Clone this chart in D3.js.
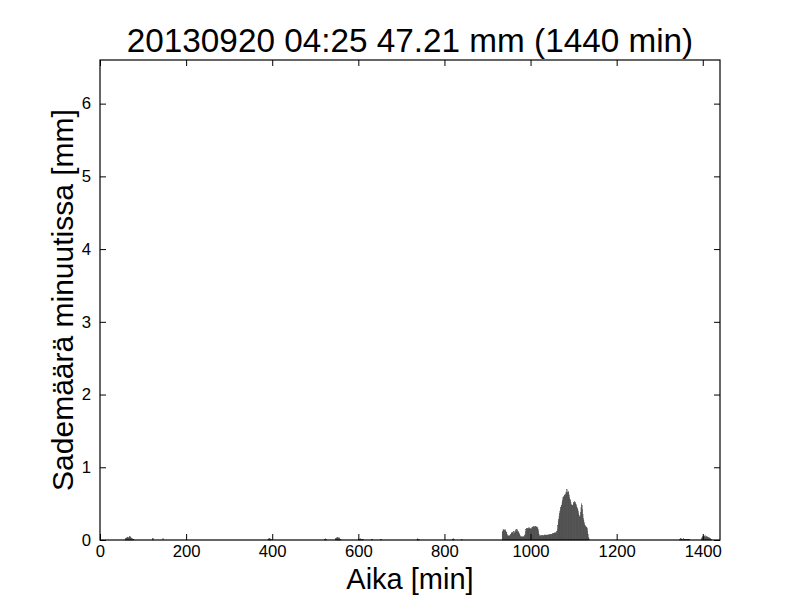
<!DOCTYPE html>
<html>
<head>
<meta charset="utf-8">
<script src="https://cdn.jsdelivr.net/npm/d3@7"></script>
<style>
  body { margin: 0; background: #fff; }
  svg { display: block; }
  text { font-family: "Liberation Sans", Arial, sans-serif; }
</style>
</head>
<body>
<svg id="chart" width="800" height="600"></svg>
<script>
const titleText = "20130920 04:25 47.21 mm (1440 min)";
const xLabel = "Aika [min]";
const yLabel = "Sademäärä minuutissa [mm]";
const xTicks = [0, 200, 400, 600, 800, 1000, 1200, 1400];
const yTicks = [0, 1, 2, 3, 4, 5, 6];

// Rain segments: start minute and per-minute values (mm)
const segmentStarts = [58, 122, 146, 390, 522, 546, 600, 631, 652, 736, 818, 840, 934, 1346, 1397];
const segmentValues = [
  [0.01, 0.02, 0.02, 0.03, 0.02, 0.03, 0.04, 0.03, 0.02, 0.03, 0.04, 0.05, 0.04, 0.03, 0.02, 0.02, 0.01, 0.02, 0.01, 0.01, 0.01],
  [0.02, 0.02],
  [0.02],
  [0.01, 0.02, 0.01, 0.02, 0.02, 0.01, 0.01, 0.01],
  [0.01, 0.02, 0.01, 0.01],
  [0.01, 0.02, 0.02, 0.03, 0.02, 0.03, 0.03, 0.02, 0.02, 0.03, 0.02, 0.01, 0.01, 0.01],
  [0.02, 0.01, 0.01, 0.01, 0.02, 0.01, 0.01, 0.01, 0.01, 0.01, 0.01, 0.01],
  [0.01, 0.01],
  [0.01, 0.01],
  [0.01, 0.02, 0.01, 0.01, 0.01, 0.01],
  [0.01, 0.01, 0.02, 0.01, 0.01],
  [0.01],
  [0.10, 0.12, 0.14, 0.13, 0.14, 0.12, 0.13, 0.14, 0.12, 0.11, 0.10, 0.08, 0.06, 0.05, 0.06, 0.05,
   0.06, 0.05, 0.06, 0.07, 0.08, 0.10, 0.09, 0.11, 0.10, 0.08, 0.10, 0.12, 0.10, 0.09, 0.11, 0.13,
   0.14, 0.12, 0.14, 0.13, 0.11, 0.12, 0.10, 0.09, 0.08, 0.06, 0.05, 0.04, 0.05, 0.04, 0.04, 0.05,
   0.04, 0.05, 0.04, 0.05, 0.06, 0.08, 0.12, 0.14, 0.15, 0.16, 0.15, 0.16, 0.15, 0.16, 0.17, 0.16,
   0.15, 0.16, 0.15, 0.16, 0.14, 0.17, 0.18, 0.17, 0.19, 0.18, 0.17, 0.18, 0.19, 0.17, 0.19, 0.18,
   0.17, 0.16, 0.17, 0.15, 0.12, 0.08, 0.06, 0.05, 0.05, 0.06, 0.05, 0.05, 0.06, 0.05, 0.06, 0.06,
   0.05, 0.06, 0.06, 0.07, 0.06, 0.06, 0.07, 0.06, 0.07, 0.07, 0.06, 0.07, 0.07, 0.08, 0.07, 0.07,
   0.08, 0.08, 0.07, 0.08, 0.08, 0.09, 0.08, 0.09, 0.09, 0.10, 0.09, 0.10, 0.09, 0.10, 0.10, 0.12,
   0.15, 0.20, 0.25, 0.28, 0.32, 0.36, 0.40, 0.43, 0.45, 0.47, 0.48, 0.52, 0.55, 0.58, 0.60, 0.59,
   0.62, 0.61, 0.63, 0.62, 0.66, 0.65, 0.69, 0.66, 0.64, 0.67, 0.65, 0.62, 0.58, 0.56, 0.55, 0.52,
   0.49, 0.47, 0.48, 0.46, 0.48, 0.50, 0.52, 0.51, 0.53, 0.50, 0.52, 0.49, 0.47, 0.45, 0.44, 0.42,
   0.40, 0.37, 0.34, 0.32, 0.31, 0.33, 0.38, 0.45, 0.50, 0.48, 0.42, 0.35, 0.30, 0.27, 0.24, 0.21,
   0.20, 0.19, 0.18, 0.18, 0.17, 0.16, 0.12, 0.08, 0.04, 0.02],
  [0.01, 0.01, 0.01, 0.02, 0.01, 0.01, 0.01, 0.01, 0.01, 0.02, 0.01, 0.01, 0.01, 0.01, 0.01, 0.01, 0.01, 0.01, 0.01, 0.01, 0.01, 0.01, 0.01, 0.01],
  [0.02, 0.03, 0.05, 0.04, 0.06, 0.05, 0.04, 0.05, 0.06, 0.04, 0.03, 0.04, 0.05, 0.04, 0.03, 0.04, 0.03, 0.02, 0.03, 0.02, 0.02, 0.01, 0.01, 0.01]
];

const rain = [];
segmentStarts.forEach((s, i) => {
  segmentValues[i].forEach((v, j) => rain.push({ minute: s + j, value: v }));
});

const margin = { left: 100, right: 80, top: 60, bottom: 60 };
const W = 800, H = 600;
const svg = d3.select("#chart");

const x = d3.scaleLinear().domain([0, 1440]).range([margin.left, W - margin.right]);
const y = d3.scaleLinear().domain([0, 6.6]).range([H - margin.bottom, margin.top]);

// bars
svg.append("g").selectAll("rect").data(rain).join("rect")
  .attr("x", d => x(d.minute))
  .attr("width", d => x(d.minute + 1) - x(d.minute))
  .attr("y", d => y(d.value))
  .attr("height", d => y(0) - y(d.value))
  .attr("fill", "#4a4a4a")
  .attr("stroke", "#4a4a4a")
  .attr("stroke-width", 0.35);

const tickLen = 6;
// bottom axis (ticks inside)
const xb = svg.append("g").attr("transform", `translate(0,${y(0)})`)
  .call(d3.axisBottom(x).tickValues(xTicks).tickSize(-tickLen).tickPadding(5).tickFormat(d3.format("d")));
// top axis
const xt = svg.append("g").attr("transform", `translate(0,${y(6.6)})`)
  .call(d3.axisTop(x).tickValues(xTicks).tickSize(-tickLen).tickFormat(""));
// left axis
const yl = svg.append("g").attr("transform", `translate(${x(0)},0)`)
  .call(d3.axisLeft(y).tickValues(yTicks).tickSize(-tickLen).tickPadding(9).tickFormat(d3.format("d")));
// right axis
const yr = svg.append("g").attr("transform", `translate(${x(1440)},0)`)
  .call(d3.axisRight(y).tickValues(yTicks).tickSize(-tickLen).tickFormat(""));

[xb, xt, yl, yr].forEach(g => {
  g.select(".domain").remove();
  g.selectAll("line").attr("stroke", "#000").attr("stroke-width", 1);
  g.selectAll("text").attr("font-size", 16.7).attr("fill", "#000")
    .style("font-family", '"Liberation Sans", Arial, sans-serif');
});

// frame
svg.append("rect")
  .attr("x", x(0)).attr("y", y(6.6))
  .attr("width", x(1440) - x(0)).attr("height", y(0) - y(6.6))
  .attr("fill", "none").attr("stroke", "#000").attr("stroke-width", 1.2);

// title
svg.append("text").attr("x", (x(0) + x(1440)) / 2).attr("y", 52)
  .attr("text-anchor", "middle").attr("font-size", 33.3).text(titleText);
// x label
svg.append("text").attr("x", (x(0) + x(1440)) / 2).attr("y", 589)
  .attr("text-anchor", "middle").attr("font-size", 29).text(xLabel);
// y label
svg.append("text").attr("transform", `translate(73,${(y(0) + y(6.6)) / 2}) rotate(-90)`)
  .attr("text-anchor", "middle").attr("font-size", 30).text(yLabel);
</script>
</body>
</html>
